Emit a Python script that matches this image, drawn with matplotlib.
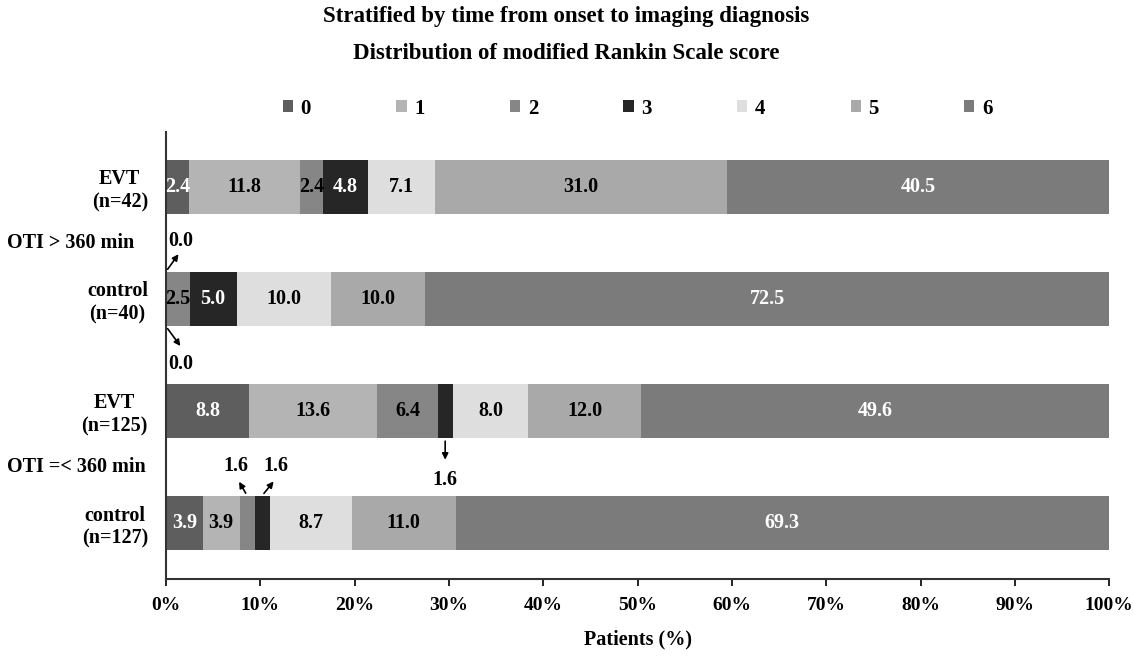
import matplotlib.pyplot as plt
import numpy as np

plt.rcParams['font.family'] = ['Liberation Serif', 'DejaVu Serif']
plt.rcParams['font.weight'] = 'bold'

# mRS distribution (%), rows drawn top -> bottom
groups = ["EVT\n(n=42)", "control\n(n=40)", "EVT\n(n=125)", "control\n(n=127)"]
scores = ["0", "1", "2", "3", "4", "5", "6"]
evt_late = [2.4, 11.8, 2.4, 4.8, 7.1, 31.0, 40.5]
ctrl_late = [0.0, 0.0, 2.5, 5.0, 10.0, 10.0, 72.5]
evt_early = [8.8, 13.6, 6.4, 1.6, 8.0, 12.0, 49.6]
ctrl_early = [3.9, 3.9, 1.6, 1.6, 8.7, 11.0, 69.3]
strata = ["OTI > 360 min", "OTI =< 360 min"]

colors = ['#5e5e5e', '#b4b4b4', '#868686', '#262626', '#dedede', '#a9a9a9', '#7b7b7b']
txt_colors = ['white', 'black', 'black', 'white', 'black', 'black', 'white']

rows = np.array([evt_late, ctrl_late, evt_early, ctrl_early])
ypos = np.array([3, 2, 1, 0])
h = 0.49
fs = 14.5

fig = plt.figure(figsize=(11.33, 6.57), dpi=100)
ax = fig.add_axes([0.1465, 0.1187, 0.8325, 0.6803])

lefts = np.zeros(len(rows))
starts = np.zeros(rows.shape)
for k in range(len(scores)):
    starts[:, k] = lefts
    ax.barh(ypos, rows[:, k], left=lefts, height=h, color=colors[k],
            label=scores[k], edgecolor='none')
    lefts = lefts + rows[:, k]

# labels inside segments (tiny ones get arrows below)
outside = {(1, 0), (1, 1), (2, 3), (3, 2), (3, 3)}
for i in range(len(rows)):
    for k in range(len(scores)):
        if (i, k) in outside:
            continue
        v = rows[i, k]
        ax.text(starts[i, k] + v / 2, ypos[i], f"{v:.1f}", ha='center', va='center',
                color=txt_colors[k], fontsize=fs, fontweight='bold')

arrow = dict(arrowstyle='-|>', color='black', lw=1.2, mutation_scale=9)

# control > 360: mRS 0 and 1 are zero
y = ypos[1]
ax.annotate('', xy=(starts[1, 0] + 1.5, y + 0.42), xytext=(starts[1, 0], y + h / 2), arrowprops=arrow)
ax.text(starts[1, 0] + 0.2, y + 0.52, f"{rows[1, 0]:.1f}", ha='left', va='center', fontsize=fs)
ax.annotate('', xy=(starts[1, 1] + 1.7, y - 0.44), xytext=(starts[1, 1], y - h / 2), arrowprops=arrow)
ax.text(starts[1, 1] + 0.2, y - 0.58, f"{rows[1, 1]:.1f}", ha='left', va='center', fontsize=fs)

# EVT <= 360: mRS 3
y = ypos[2]
xc = starts[2, 3] + rows[2, 3] / 2
ax.annotate('', xy=(xc, y - 0.46), xytext=(xc, y - h / 2), arrowprops=arrow)
ax.text(xc, y - 0.62, f"{rows[2, 3]:.1f}", ha='center', va='center', fontsize=fs)

# control <= 360: mRS 2 and 3
y = ypos[3]
xc = starts[3, 2] + rows[3, 2] / 2
ax.annotate('', xy=(xc - 1.0, y + 0.39), xytext=(xc, y + h / 2), arrowprops=arrow)
ax.text(xc - 1.2, y + 0.51, f"{rows[3, 2]:.1f}", ha='center', va='center', fontsize=fs)
xc = starts[3, 3] + rows[3, 3] / 2
ax.annotate('', xy=(xc + 1.4, y + 0.39), xytext=(xc, y + h / 2), arrowprops=arrow)
ax.text(xc + 1.4, y + 0.51, f"{rows[3, 3]:.1f}", ha='center', va='center', fontsize=fs)

ax.set_xlim(0, 100)
ax.set_ylim(-0.5, 3.49)
ax.set_yticks(ypos)
ax.set_yticklabels(groups, fontsize=fs, fontweight='bold', multialignment='center')
ax.tick_params(axis='y', length=0, pad=13)
ax.set_xticks(np.arange(0, 101, 10))
ax.set_xticklabels([f"{t}%" for t in range(0, 101, 10)], fontsize=14, fontweight='bold')
ax.tick_params(axis='x', length=5, width=1.2, pad=8)
ax.set_xlabel("Patients (%)", fontsize=fs, fontweight='bold', labelpad=11)

for s in ['top', 'right']:
    ax.spines[s].set_visible(False)
for s in ['left', 'bottom']:
    ax.spines[s].set_linewidth(1.5)
    ax.spines[s].set_color('#333333')

# stratum labels
for txt, yy in zip(strata, [2.5, 0.5]):
    ax.text(-0.169, yy, txt, transform=ax.get_yaxis_transform(), ha='left', va='center',
            fontsize=fs, fontweight='bold')

ax.legend(ncol=7, loc='center', bbox_to_anchor=(0.5, 1.052), frameon=False,
          handlelength=0.5, handleheight=0.5, handletextpad=0.35, columnspacing=4.1,
          prop={'size': 15, 'weight': 'bold'})

fig.text(0.5, 0.975, "Stratified by time from onset to imaging diagnosis", ha='center', va='center',
         fontsize=16.5, fontweight='bold')
fig.text(0.5, 0.918, "Distribution of modified Rankin Scale score", ha='center', va='center',
         fontsize=16.5, fontweight='bold')

fig.savefig("out.png", dpi=100)
